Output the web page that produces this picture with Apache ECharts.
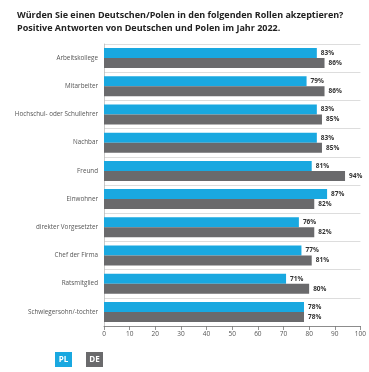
<!DOCTYPE html>
<html><head><meta charset="utf-8">
<script src="https://cdn.jsdelivr.net/npm/echarts@6/dist/echarts.min.js"></script>
<style>html,body{margin:0;padding:0;background:#fff}#c{width:369px;height:372px}</style>
</head><body><div id="c"></div>
<script>
const categories = ["Arbeitskollege","Mitarbeiter","Hochschul- oder Schullehrer","Nachbar","Freund","Einwohner","direkter Vorgesetzter","Chef der Firma","Ratsmitglied","Schwiegersohn/-tochter"];
const plValues = [83,79,83,83,81,87,76,77,71,78];
const deValues = [86,86,85,85,94,82,82,81,80,78];
const xTicks = [0,10,20,30,40,50,60,70,80,90,100];
const titleLines = ["Würden Sie einen Deutschen/Polen in den folgenden Rollen akzeptieren?","Positive Antworten von Deutschen und Polen im Jahr 2022."];
const BLUE = '#19a8e0', GREY = '#6a6a6c';
const chart = echarts.init(document.getElementById('c'));
const lbl = {show:true, position:'right', distance:4, formatter:'{c}%', fontSize:6.5, fontWeight:'bold', color:'#333', fontFamily:'Open Sans'};
chart.setOption({
  animation:false,
  title:{text:titleLines.join('\n'), left:12, top:4, textStyle:{fontSize:9, fontWeight:'bold', color:'#222', fontFamily:'Open Sans', lineHeight:13}},
  legend:{left:45, top:347, itemWidth:0, itemHeight:0, itemGap:9, icon:'rect',
    data:['PL','DE'],
    formatter: n => '{' + n.toLowerCase() + '|' + n + '}',
    textStyle:{rich:{
      pl:{backgroundColor:BLUE, color:'#fff', fontWeight:'bold', fontSize:8, padding:[4,3,3,3], width:11, align:'center', fontFamily:'Open Sans'},
      de:{backgroundColor:GREY, color:'#fff', fontWeight:'bold', fontSize:8, padding:[4,3,3,3], width:11, align:'center', fontFamily:'Open Sans'}
    }}},
  grid:{left:104, right:5, top:44, bottom:46, containLabel:false},
  xAxis:{type:'value', min:0, max:100, interval:10,
    axisLine:{show:true, lineStyle:{color:'#777', width:0.8}},
    axisTick:{show:true, length:4, lineStyle:{color:'#777', width:0.8}},
    splitLine:{show:false},
    axisLabel:{fontSize:6.5, color:'#555', margin:5, fontFamily:'Open Sans', formatter:v=>xTicks.includes(v)?String(v):''}},
  yAxis:{type:'category', data:categories, inverse:true,
    axisLine:{show:true, lineStyle:{color:'#bbb', width:0.8}},
    axisTick:{show:false},
    splitLine:{show:true, lineStyle:{color:'#ddd', width:1}},
    axisLabel:{fontSize:6.3, color:'#555', margin:6, fontFamily:'Open Sans'}},
  series:[
    {name:'PL', type:'bar', data:plValues, barWidth:10, barGap:'0%', itemStyle:{color:BLUE}, label:lbl},
    {name:'DE', type:'bar', data:deValues, barWidth:10, barGap:'0%', itemStyle:{color:GREY}, label:lbl}
  ]
});
</script></body></html>
